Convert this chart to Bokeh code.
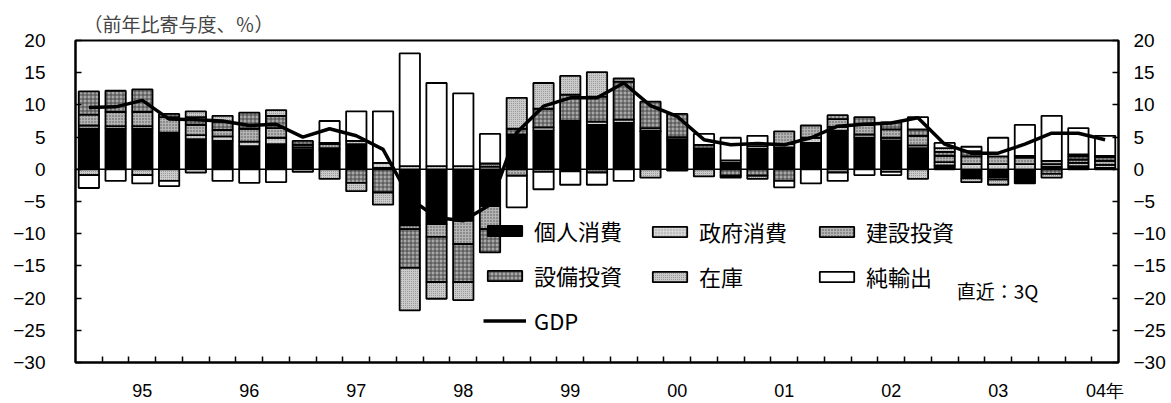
import numpy as np
from bokeh.plotting import figure
from bokeh.models import (ColumnDataSource, FixedTicker, LinearAxis, Range1d, Span,
                          Legend, LegendItem, Label)
from bokeh.embed import file_html
from bokeh.resources import INLINE

# ---------------- data ----------------
quarters = ["95Q1", "95Q2", "95Q3", "95Q4", "96Q1", "96Q2", "96Q3", "96Q4",
            "97Q1", "97Q2", "97Q3", "97Q4", "98Q1", "98Q2", "98Q3", "98Q4",
            "99Q1", "99Q2", "99Q3", "99Q4", "00Q1", "00Q2", "00Q3", "00Q4",
            "01Q1", "01Q2", "01Q3", "01Q4", "02Q1", "02Q2", "02Q3", "02Q4",
            "03Q1", "03Q2", "03Q3", "03Q4", "04Q1", "04Q2", "04Q3"]
year_labels = ["95", "96", "97", "98", "99", "00", "01", "02", "03", "04年"]

consumption = [6.3, 6.3, 6.3, 5.7, 4.7, 4.4, 3.6, 3.9, 3.1, 3.0, 3.9, 0.2,
               -8.7, -8.5, -8.0, -5.7, 5.4, 6.0, 7.2, 6.9, 7.2, 5.9, 4.4, 3.0,
               1.0, 3.2, 3.4, 4.1, 6.0, 4.9, 4.5, 3.3, 0.6, -1.4, -1.2, -2.2,
               0.4, 0.5, 0.2]
government = [0.5, 0.4, 0.4, 0.0, 0.6, 0.7, 0.7, 1.0, 0.3, 0.3, 0.5, 0.8,
              0.5, 0.5, 0.5, 0.4, 0.0, 0.5, 0.3, 0.5, 0.5, 0.1, 0.3, 0.2,
              0.4, 0.4, 0.5, 0.8, 0.6, 0.5, 0.4, 0.4, 0.5, 0.8, 0.8, 0.8,
              0.4, 0.5, 0.5]
construction = [1.7, 2.2, 2.2, 2.4, 1.6, 1.0, 2.0, 1.5, 0.4, 0.6, 0.0, 0.0,
                -0.6, -2.0, -3.6, -3.6, -1.0, -0.4, -0.3, -0.5, 0.0, 0.4, 0.3, 0.0,
                0.0, 0.0, 2.0, 1.9, 1.2, 1.5, 1.3, 1.5, 1.0, 1.2, 1.2, 1.0,
                0.5, 0.5, 0.6]
equipment = [3.6, 3.3, 3.5, 0.5, 1.2, 1.3, 2.5, 1.9, 0.6, 0.2, -2.1, -3.6,
             -6.0, -7.0, -5.9, -3.6, 0.9, 2.9, 4.1, 3.9, 5.9, 4.1, 3.6, 0.6,
             -1.0, -1.0, -1.8, 0.0, 0.6, 1.2, 1.1, 1.0, 0.6, 0.8, -0.4, 0.3,
             -0.7, 0.5, 0.6]
inventory = [-0.9, 0.0, -0.9, -1.8, 0.9, 0.9, 0.0, 0.9, -0.4, -1.5, -1.3, -1.9,
             -6.6, -2.6, -2.8, 0.5, 4.8, 4.0, 2.9, 3.8, 0.5, -1.3, 0.0, -1.1,
             -0.3, -0.5, 0.0, 0.0, -0.5, 0.0, -0.4, -1.5, 0.6, -0.6, -0.8, 0.0,
             -0.6, 0.3, 0.2]
net_exports = [-2.0, -1.8, -1.3, -0.8, -0.5, -1.8, -2.1, -2.0, 0.0, 3.4, 4.6, 8.0,
               17.5, 12.9, 11.3, 4.6, -4.9, -2.7, -2.1, -1.9, -1.8, 0.0, -0.2, 1.7,
               3.5, 1.6, -1.0, -2.2, -1.3, -0.9, -0.5, 1.9, 0.8, 0.7, 2.9, 4.8,
               7.0, 4.1, 3.1]
gdp = [9.6, 9.7, 10.7, 7.8, 7.7, 7.5, 6.8, 7.0, 5.0, 6.3, 5.2, 3.1,
       -4.5, -7.5, -8.0, -5.5, 5.7, 9.8, 11.1, 11.1, 13.4, 9.9, 8.2, 4.6,
       3.8, 4.0, 3.8, 4.9, 6.7, 7.0, 7.2, 8.0, 3.9, 2.5, 2.5, 3.9,
       5.6, 5.6, 4.6]

series_names = ["個人消費", "政府消費", "建設投資", "設備投資", "在庫", "純輸出"]
series_values = [consumption, government, construction, equipment, inventory, net_exports]

CJK = "Noto Sans CJK JP"
NUM = "Liberation Sans"

styles = [
    dict(fill_color="black"),
    dict(fill_color="#d6d6d6", hatch_pattern="dot", hatch_scale=3, hatch_color="#9a9a9a", hatch_weight=1),
    dict(fill_color="#b4b4b4", hatch_pattern="dot", hatch_scale=3, hatch_color="#505050", hatch_weight=1),
    dict(fill_color="#a8a8a8", hatch_pattern="cross", hatch_scale=4, hatch_color="#333333", hatch_weight=0.8),
    dict(fill_color="#cacaca", hatch_pattern="dot", hatch_scale=2, hatch_color="#8a8a8a", hatch_weight=1),
    dict(fill_color="white"),
]

x = np.arange(len(quarters))
label_pos = [i for i, q in enumerate(quarters) if q.endswith("Q3")]

p = figure(width=1171, height=403, x_range=Range1d(-0.5, len(quarters) - 0.5),
           y_range=Range1d(-30, 20), output_backend="svg", toolbar_location=None,
           min_border_left=75, min_border_right=53, min_border_top=40, min_border_bottom=39)

p.xgrid.visible = False
p.ygrid.visible = False
p.outline_line_color = "black"
p.outline_line_width = 2
p.background_fill_color = "white"
p.border_fill_color = "white"

p.title.text = "（前年比寄与度、％）"
p.title.text_font = CJK
p.title.text_font_size = "19px"
p.title.text_font_style = "normal"
p.title.offset = 8
p.title.standoff = 8

p.add_layout(Span(location=0, dimension="width", line_color="black", line_width=1.5, level="underlay"))

renderers = []
pos_base = np.zeros(len(quarters))
neg_base = np.zeros(len(quarters))
for name, vals, st in zip(series_names, series_values, styles):
    v = np.array(vals, dtype=float)
    bottom = np.where(v >= 0, pos_base, neg_base + v)
    top = np.where(v >= 0, pos_base + v, neg_base)
    pos_base = pos_base + np.where(v > 0, v, 0)
    neg_base = neg_base + np.where(v < 0, v, 0)
    m = v != 0
    src = ColumnDataSource(dict(x=x[m], bottom=bottom[m], top=top[m]))
    r = p.vbar(x="x", width=0.76, bottom="bottom", top="top", source=src,
               line_color="black", line_width=1.8, **st)
    renderers.append(r)

gdp_r = p.line(x, gdp, line_color="black", line_width=3.5)

# axes
p.xaxis.ticker = FixedTicker(ticks=label_pos, minor_ticks=[i + 0.5 for i in range(len(quarters) - 1)])
p.xaxis.major_label_overrides = {pos: lab for pos, lab in zip(label_pos, year_labels)}
p.xaxis.major_tick_in = 0
p.xaxis.major_tick_out = 0
p.xaxis.minor_tick_in = 6
p.xaxis.minor_tick_out = 0
p.xaxis.minor_tick_line_width = 1.5
p.xaxis.minor_tick_line_color = "black"
p.xaxis.axis_line_width = 2
p.xaxis.major_label_standoff = 18
p.xaxis.major_label_text_font = NUM
p.xaxis.major_label_text_font_size = "18px"
p.xaxis.major_label_text_color = "black"

yt = list(range(-30, 21, 5))
p.yaxis.ticker = FixedTicker(ticks=yt, minor_ticks=[])
right = LinearAxis(ticker=FixedTicker(ticks=yt, minor_ticks=[]))
p.add_layout(right, "right")
for ax, so in ((p.yaxis[0], 30), (right, 15)):
    ax.major_tick_in = 6
    ax.major_tick_out = 0
    ax.major_tick_line_width = 1.5
    ax.minor_tick_in = 0
    ax.minor_tick_out = 0
    ax.axis_line_width = 2
    ax.major_label_standoff = so
    ax.major_label_text_font = NUM
    ax.major_label_text_font_size = "19px"
    ax.major_label_text_color = "black"

# legends (three columns)
cols = [[0, 3, None], [1, 4], [2, 5]]
xoffs = [408, 573, 740]
for ci, (idxs, xo) in enumerate(zip(cols, xoffs)):
    items = []
    for k in idxs:
        if k is None:
            items.append(LegendItem(label="GDP", renderers=[gdp_r]))
        else:
            items.append(LegendItem(label=series_names[k], renderers=[renderers[k]]))
    nrows = len(items)
    lg = Legend(items=items, location=(xo, 26 if nrows == 3 else 70),
                orientation="vertical", glyph_width=43, glyph_height=13,
                label_standoff=8, spacing=13, padding=0, margin=0,
                background_fill_alpha=0, border_line_alpha=0,
                label_text_font=CJK, label_text_font_size="22px",
                label_text_color="black")
    p.add_layout(lg)

p.add_layout(Label(x=32.45, y=-18.8, text="直近：3Q", text_font=CJK,
                   text_font_size="19px", text_baseline="middle", text_color="black"))

open("out.html", "w").write(file_html(p, INLINE))
